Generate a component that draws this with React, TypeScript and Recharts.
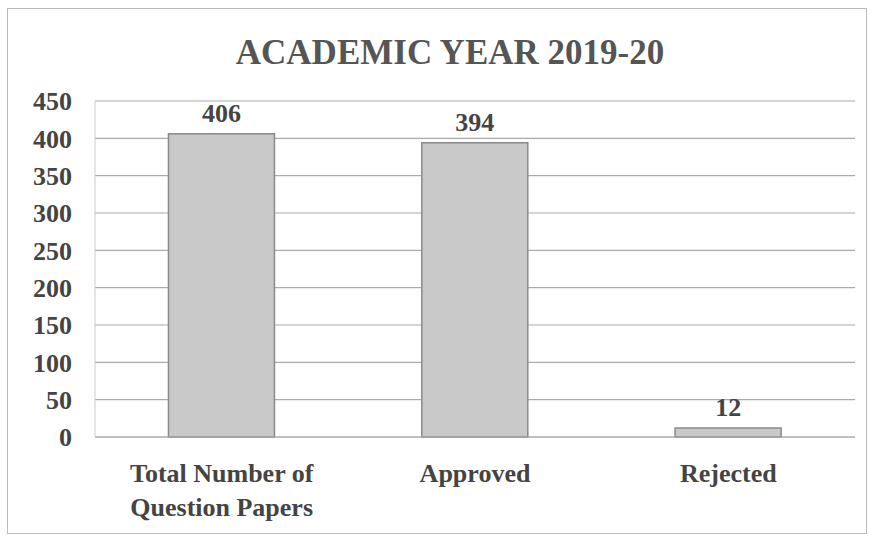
import React from "react";
import {
  BarChart,
  Bar,
  XAxis,
  YAxis,
  CartesianGrid,
  LabelList,
} from "recharts";

const categories = ["Total Number of\nQuestion Papers", "Approved", "Rejected"];
const counts = [406, 394, 12];
const yTicks = [0, 50, 100, 150, 200, 250, 300, 350, 400, 450];

const data = categories.map((name, i) => ({ name, value: counts[i] }));

const FONT = "'Liberation Serif', 'Times New Roman', serif";
const INK = "#444";

function CategoryTick(props: any) {
  const { x, y, payload } = props;
  const lines = String(payload.value).split("\n");
  return (
    <text
      x={x}
      y={y}
      textAnchor="middle"
      fill={INK}
      fontFamily={FONT}
      fontWeight="bold"
      fontSize={26}
    >
      {lines.map((line, i) => (
        <tspan key={i} x={x} dy={i === 0 ? 37 : 34}>
          {line}
        </tspan>
      ))}
    </text>
  );
}

export default function App() {
  return (
    <div
      style={{
        position: "absolute",
        left: 0,
        top: 0,
        width: 871,
        height: 539,
        background: "#fff",
      }}
    >
      <div
        style={{
          position: "absolute",
          left: 7,
          top: 8,
          width: 858,
          height: 524,
          border: "1px solid #bbb",
        }}
      />
      <div
        style={{
          position: "absolute",
          left: 0,
          top: 34,
          width: 900,
          textAlign: "center",
          fontFamily: FONT,
          fontWeight: "bold",
          fontSize: 35,
          color: "#555",
          lineHeight: "38px",
        }}
      >
        ACADEMIC YEAR 2019-20
      </div>
      <BarChart
        width={871}
        height={539}
        data={data}
        margin={{ top: 101, right: 16, left: 0, bottom: 0 }}
        barCategoryGap="29%"
      >
        <CartesianGrid vertical={false} stroke="#aaa" strokeWidth={1.2} />
        <XAxis
          dataKey="name"
          tick={<CategoryTick />}
          tickLine={false}
          axisLine={{ stroke: "#aaa" }}
          interval={0}
          height={102}
        />
        <YAxis
          domain={[0, 450]}
          ticks={yTicks}
          interval={0}
          width={95}
          tickLine={false}
          tickSize={0}
          tickMargin={23}
          axisLine={{ stroke: "#ccc" }}
          tick={{
            fill: INK,
            fontFamily: FONT,
            fontWeight: "bold",
            fontSize: 26,
          }}
        />
        <Bar
          dataKey="value"
          fill="#c9c9c9"
          stroke="#8a8a8a"
          strokeWidth={1.5}
          isAnimationActive={false}
        >
          <LabelList
            dataKey="value"
            position="top"
            offset={12}
            fill={INK}
            fontFamily={FONT}
            fontWeight="bold"
            fontSize={26}
          />
        </Bar>
      </BarChart>
    </div>
  );
}
